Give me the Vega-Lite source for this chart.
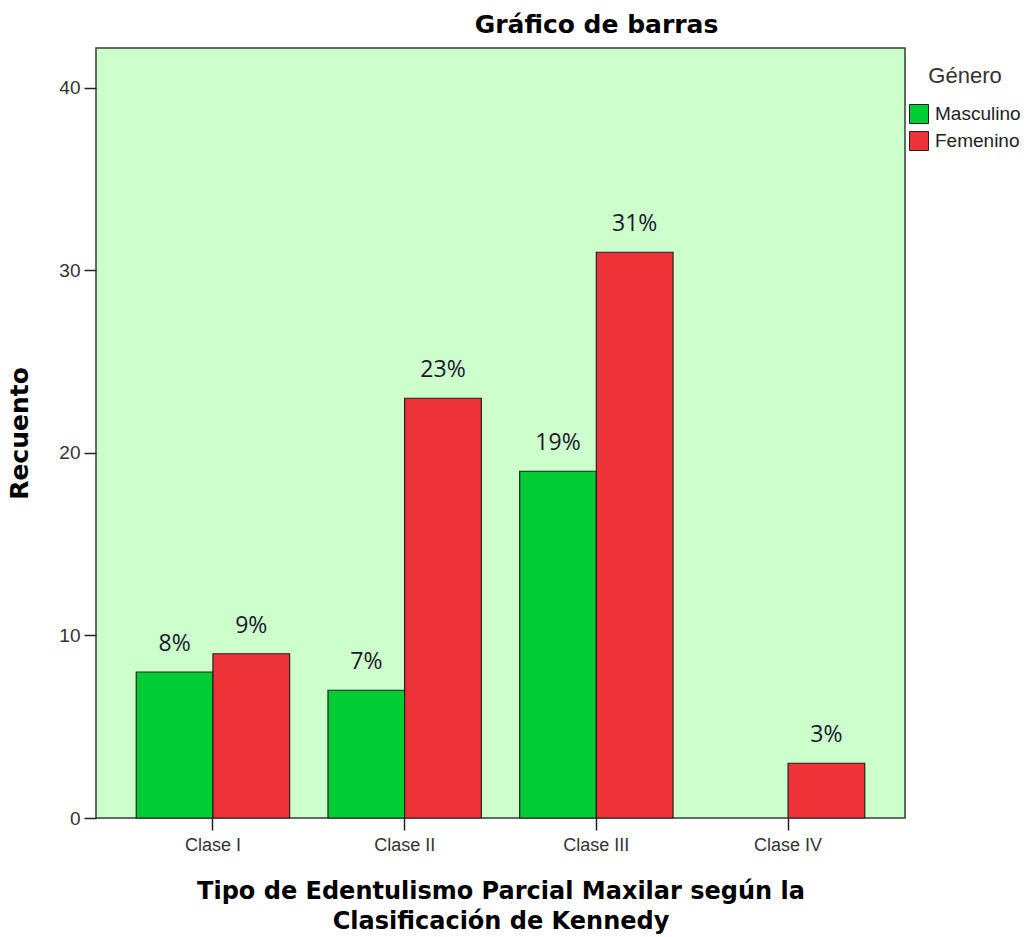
{
  "$schema": "https://vega.github.io/schema/vega-lite/v6.json",
  "autosize": {"type": "none"},
  "width": 809,
  "height": 770,
  "padding": {"left": 96, "top": 48, "right": 128, "bottom": 119},
  "background": "white",
  "title": {
    "text": "Gráfico de barras",
    "anchor": "middle",
    "frame": "group",
    "dx": 96,
    "offset": 10,
    "font": "DejaVu Sans",
    "fontSize": 25,
    "fontWeight": "bold",
    "color": "#000000"
  },
  "config": {
    "view": {"fill": "#CCFFCC", "stroke": "#3a3a3a", "strokeWidth": 1.5},
    "font": "Liberation Sans"
  },
  "data": {
    "values": [
      {"clase": "Clase I", "genero": "Masculino", "recuento": 8, "pct": "8%"},
      {"clase": "Clase I", "genero": "Femenino", "recuento": 9, "pct": "9%"},
      {"clase": "Clase II", "genero": "Masculino", "recuento": 7, "pct": "7%"},
      {"clase": "Clase II", "genero": "Femenino", "recuento": 23, "pct": "23%"},
      {"clase": "Clase III", "genero": "Masculino", "recuento": 19, "pct": "19%"},
      {"clase": "Clase III", "genero": "Femenino", "recuento": 31, "pct": "31%"},
      {"clase": "Clase IV", "genero": "Femenino", "recuento": 3, "pct": "3%"}
    ]
  },
  "encoding": {
    "x": {
      "field": "clase",
      "type": "nominal",
      "sort": ["Clase I", "Clase II", "Clase III", "Clase IV"],
      "scale": {"paddingInner": 0.2, "paddingOuter": 0.21},
      "axis": {
        "title": ["Tipo de Edentulismo Parcial Maxilar según la", "Clasificación de Kennedy"],
        "titleFont": "DejaVu Sans",
        "titleFontSize": 24,
        "titleFontWeight": "bold",
        "titleColor": "#000000",
        "titlePadding": 25,
        "titleLineHeight": 30,
        "labelAngle": 0,
        "labelFont": "Liberation Sans",
        "labelFontSize": 18,
        "labelColor": "#333333",
        "labelPadding": 6,
        "tickColor": "#222222",
        "tickSize": 12,
        "tickWidth": 1.5,
        "domain": false,
        "grid": false
      }
    },
    "xOffset": {"field": "genero", "type": "nominal", "sort": ["Masculino", "Femenino"]},
    "y": {
      "field": "recuento",
      "type": "quantitative",
      "scale": {"domain": [0, 42.19], "nice": false},
      "axis": {
        "title": "Recuento",
        "titleFont": "DejaVu Sans",
        "titleFontSize": 25,
        "titleFontWeight": "bold",
        "titleColor": "#000000",
        "titlePadding": 26,
        "values": [0, 10, 20, 30, 40],
        "labelFont": "Liberation Sans",
        "labelFontSize": 19,
        "labelColor": "#333333",
        "labelPadding": 4,
        "tickColor": "#222222",
        "tickSize": 12,
        "tickWidth": 1.5,
        "domain": false,
        "grid": false
      }
    }
  },
  "layer": [
    {
      "mark": {"type": "bar", "stroke": "#222222", "strokeWidth": 1.2},
      "encoding": {
        "color": {
          "field": "genero",
          "type": "nominal",
          "sort": ["Masculino", "Femenino"],
          "scale": {"domain": ["Masculino", "Femenino"], "range": ["#00CC33", "#EE3338"]},
          "legend": {
            "title": "Género",
            "orient": "none",
            "legendX": 813,
            "legendY": 18,
            "titleFont": "Liberation Sans",
            "titleFontSize": 22,
            "titleFontWeight": "normal",
            "titleColor": "#333333",
            "titlePadding": 16,
            "titleAnchor": "middle",
            "symbolType": "square",
            "symbolSize": 361,
            "symbolStrokeColor": "#222222",
            "symbolStrokeWidth": 1,
            "symbolOpacity": 1,
            "labelFont": "Liberation Sans",
            "labelFontSize": 19,
            "labelColor": "#222222",
            "labelOffset": 6,
            "rowPadding": 3
          }
        }
      }
    },
    {
      "mark": {"type": "text", "baseline": "alphabetic", "dy": -21, "fontSize": 23, "font": "Open Sans", "color": "#1a1a2a"},
      "encoding": {
        "text": {"field": "pct"}
      }
    }
  ]
}
